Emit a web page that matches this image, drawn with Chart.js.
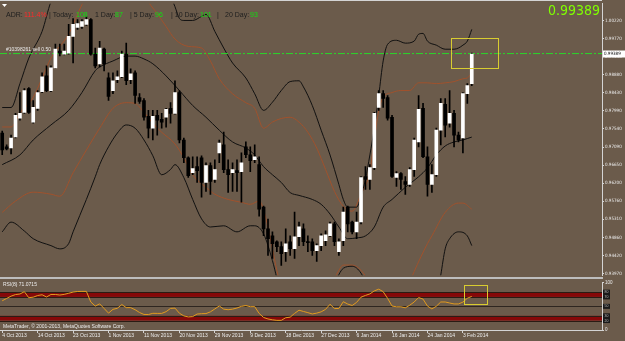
<!DOCTYPE html>
<html>
<head>
<meta charset="utf-8">
<script src="https://cdn.jsdelivr.net/npm/chart.js@4.4.1/dist/chart.umd.min.js"></script>
<style>
html, body { margin: 0; padding: 0; background: #6b5b4b; overflow: hidden; }
#wrap { position: relative; width: 625px; height: 341px; }
canvas { position: absolute; left: 0; }
#main { top: 0; }
#rsi { top: 279px; }
</style>
</head>
<body>
<div id="wrap">
  <canvas id="main" width="625" height="279"></canvas>
  <canvas id="rsi" width="625" height="62"></canvas>
</div>
<script>
// daily bars, 4 Oct 2013 .. 5 Feb 2014 (index = bar number)
const tickIdx = [0, 8, 16, 24, 32, 40, 48, 56, 64, 72, 80, 88, 96, 104];
const tickDates = ['4 Oct 2013', '14 Oct 2013', '23 Oct 2013', '1 Nov 2013', '11 Nov 2013', '20 Nov 2013',
    '29 Nov 2013', '9 Dec 2013', '18 Dec 2013', '27 Dec 2013', '6 Jan 2014', '16 Jan 2014', '24 Jan 2014', '3 Feb 2014'];

const priceTicks = [1.0022, 0.9977, 0.9933, 0.9888, 0.9843, 0.9799, 0.9754, 0.9709,
    0.9665, 0.9620, 0.9576, 0.9531, 0.9486, 0.9442, 0.9397];

const opens = [
    0.97439, 0.97098, 0.97073, 0.97342, 0.97805, 0.97951, 0.98537, 0.97707, 0.98049, 0.98464,
    0.98854, 0.98488, 0.99049, 0.99464, 0.99390, 0.99415, 0.99829, 1.00049, 1.00073, 1.00122,
    1.00244, 0.99390, 0.99146, 0.99512, 0.98805, 0.98488, 0.98756, 0.98829, 0.99390, 0.98756,
    0.98927, 0.98317, 0.98244, 0.97854, 0.97561, 0.97878, 0.97781, 0.97829, 0.98049, 0.97927,
    0.98439, 0.97268, 0.96829, 0.96464, 0.96610, 0.96829, 0.96220, 0.96634, 0.96293, 0.96951,
    0.97146, 0.96537, 0.96464, 0.96512, 0.96488, 0.97098, 0.96903, 0.96781, 0.96659, 0.95610,
    0.95073, 0.94903, 0.94756, 0.94634, 0.94512, 0.94756, 0.94586, 0.94878, 0.95073, 0.94756,
    0.94756, 0.94537, 0.94659, 0.94781, 0.94903, 0.95195, 0.94512, 0.94781, 0.95610, 0.95244,
    0.95000, 0.95244, 0.96366, 0.96293, 0.96586, 0.98073, 0.98415, 0.98317, 0.97829, 0.96342,
    0.96439, 0.96244, 0.96171, 0.96537, 0.97220, 0.98049, 0.96854, 0.96171, 0.96415, 0.97512,
    0.98146, 0.97683, 0.97927, 0.97390, 0.97317, 0.98415, 0.98659
];
const highs = [
    0.97488, 0.97146, 0.97390, 0.97927, 0.98439, 0.98537, 0.98561, 0.98244, 0.98488, 0.98927,
    0.99098, 0.99098, 0.99634, 0.99634, 0.99634, 1.00122, 1.00268, 1.00244, 1.00244, 1.00317,
    1.00268, 0.99537, 0.99707, 0.99537, 0.98927, 0.98927, 0.98976, 0.99464, 0.99659, 0.99025,
    0.98976, 0.98415, 0.98293, 0.98000, 0.98000, 0.98000, 0.97927, 0.98049, 0.98195, 0.98732,
    0.98488, 0.97317, 0.96854, 0.96854, 0.96854, 0.96878, 0.96707, 0.96707, 0.96781, 0.97268,
    0.97464, 0.96781, 0.96707, 0.96781, 0.96951, 0.97220, 0.97098, 0.97146, 0.96854, 0.95634,
    0.95317, 0.95000, 0.94781, 0.94756, 0.95073, 0.94903, 0.95488, 0.95244, 0.95195, 0.94903,
    0.94829, 0.94707, 0.94951, 0.95025, 0.95244, 0.95244, 0.94829, 0.95610, 0.95634, 0.95268,
    0.95488, 0.96366, 0.96610, 0.96659, 0.97951, 0.98488, 0.98488, 0.98366, 0.97878, 0.96488,
    0.96464, 0.96366, 0.96586, 0.97317, 0.98366, 0.98171, 0.97098, 0.96659, 0.97561, 0.98293,
    0.98293, 0.98488, 0.98000, 0.97464, 0.98439, 0.98659, 0.99415
];
const lows = [
    0.96903, 0.97025, 0.96927, 0.97317, 0.97756, 0.97927, 0.97927, 0.97683, 0.98000, 0.98439,
    0.98464, 0.98464, 0.99040, 0.99342, 0.99370, 0.99390, 0.99171, 1.00000, 1.00025, 1.00098,
    0.99366, 0.99049, 0.99073, 0.98976, 0.98244, 0.98415, 0.98683, 0.98805, 0.98634, 0.98659,
    0.98171, 0.98171, 0.97756, 0.97317, 0.97268, 0.97390, 0.97561, 0.97586, 0.97683, 0.97903,
    0.97195, 0.96707, 0.96342, 0.96415, 0.96220, 0.95854, 0.96000, 0.95927, 0.96220, 0.96707,
    0.96464, 0.95976, 0.96000, 0.96000, 0.95732, 0.96829, 0.96488, 0.96707, 0.95390, 0.94903,
    0.94415, 0.94342, 0.94512, 0.94171, 0.94268, 0.94415, 0.94342, 0.94659, 0.94659, 0.94512,
    0.94415, 0.94268, 0.94537, 0.94659, 0.94878, 0.94659, 0.94415, 0.94659, 0.95000, 0.94951,
    0.94829, 0.95195, 0.96049, 0.96049, 0.96537, 0.98000, 0.98073, 0.97756, 0.96342, 0.96122,
    0.96049, 0.95927, 0.96122, 0.96366, 0.97098, 0.96829, 0.95878, 0.95976, 0.96366, 0.97146,
    0.97342, 0.97586, 0.97098, 0.97220, 0.96951, 0.98171, 0.98610
];
const closes = [
    0.97025, 0.97049, 0.97317, 0.97878, 0.97927, 0.98488, 0.97951, 0.98073, 0.98439, 0.98829,
    0.98488, 0.99049, 0.99512, 0.99415, 0.99464, 0.99829, 1.00122, 1.00146, 1.00195, 1.00244,
    0.99390, 0.99098, 0.99537, 0.99146, 0.98342, 0.98732, 0.98829, 0.99390, 0.98732, 0.98903,
    0.98366, 0.98220, 0.97829, 0.97561, 0.97854, 0.97756, 0.97707, 0.98025, 0.97927, 0.98439,
    0.97268, 0.96829, 0.96390, 0.96561, 0.96512, 0.96220, 0.96634, 0.96244, 0.96537, 0.97195,
    0.96537, 0.96415, 0.96537, 0.96464, 0.96707, 0.96903, 0.96756, 0.96854, 0.95561, 0.95073,
    0.94829, 0.94707, 0.94634, 0.94464, 0.94707, 0.94586, 0.94878, 0.95122, 0.94756, 0.94732,
    0.94537, 0.94659, 0.94903, 0.94927, 0.95195, 0.94756, 0.94756, 0.95488, 0.95195, 0.95000,
    0.95244, 0.96342, 0.96293, 0.96586, 0.97927, 0.98415, 0.98293, 0.97805, 0.96366, 0.96439,
    0.96293, 0.96171, 0.96537, 0.97268, 0.98025, 0.96854, 0.96171, 0.96415, 0.97512, 0.98171,
    0.97634, 0.97927, 0.97390, 0.97268, 0.98415, 0.98610, 0.99389
];

// band lines read at [bar, price]; null = line runs outside the window
const bbUpper = [[0, 0.9807], [2, 0.9807], [4, 0.9866], [6, 0.9929], [9, 0.9995], [11, 1.0068], [12, 1.0085], [25, null],
    [38, 1.0083], [39, 1.0056], [40, 1.0027], [41, 1.0022], [43, 1.0022], [45, 1.0032], [46, 1.0037], [48, 0.9995],
    [50, 0.9954], [52, 0.9917], [55, 0.9880], [57, 0.9841], [59, 0.9800], [61, 0.9820], [63, 0.9849], [65, 0.9871],
    [67, 0.9873], [68, 0.9858], [70, 0.9812], [72, 0.9751], [74, 0.9690], [76, 0.9617], [77, 0.9580], [78, 0.9561],
    [80, 0.9561], [81, 0.9588], [82, 0.9630], [83, 0.9690], [84, 0.9756], [85, 0.9837], [86, 0.9922], [87, 0.9963],
    [89, 0.9973], [91, 0.9966], [93, 0.9971], [94, 0.9988], [95, 0.9990], [96, 0.9971], [98, 0.9961], [100, 0.9951],
    [102, 0.9951], [103, 0.9954], [104, 0.9961], [105, 0.9971], [106, 1.0000]];
const bbMid = [[0, 0.9666], [4, 0.9690], [7, 0.9727], [11, 0.9764], [15, 0.9800], [18, 0.9844], [21, 0.9898],
    [22, 0.9907], [25, 0.9922], [28, 0.9934], [30, 0.9934], [32, 0.9927], [34, 0.9915], [37, 0.9885], [40, 0.9849],
    [43, 0.9812], [46, 0.9783], [49, 0.9751], [52, 0.9722], [55, 0.9707], [57, 0.9690], [59, 0.9661], [61, 0.9641],
    [63, 0.9622], [65, 0.9597], [67, 0.9590], [70, 0.9580], [72, 0.9568], [74, 0.9544], [76, 0.9512], [78, 0.9483],
    [80, 0.9485], [82, 0.9490], [84, 0.9512], [86, 0.9561], [88, 0.9580], [91, 0.9610], [94, 0.9636], [96, 0.9658],
    [98, 0.9690], [100, 0.9712], [102, 0.9722], [104, 0.9727], [106, 0.9734]];
const bbLower = [[0, 0.9500], [2, 0.9524], [5, 0.9502], [7, 0.9483], [11, 0.9466], [13, 0.9458], [15, 0.9471],
    [16, 0.9500], [19, 0.9580], [21, 0.9636], [22, 0.9666], [24, 0.9710], [26, 0.9744], [28, 0.9764], [30, 0.9756],
    [32, 0.9727], [34, 0.9688], [36, 0.9641], [38, 0.9654], [39, 0.9666], [41, 0.9634], [43, 0.9580], [45, 0.9532],
    [47, 0.9512], [50, 0.9515], [53, 0.9500], [56, 0.9515], [57, 0.9515], [59, 0.9495], [61, 0.9429], [62, 0.9385],
    [63, 0.9337], [70, null], [75, 0.9373], [77, 0.9410], [79, 0.9415], [81, 0.9398], [83, 0.9349], [90, null],
    [98, 0.9330], [99, 0.9393], [100, 0.9458], [101, 0.9483], [103, 0.9500], [105, 0.9490], [106, 0.9466]];
const envUpper = [[0, 0.9759], [2, 0.9759], [4, 0.9793], [7, 0.9832], [9, 0.9880], [11, 0.9929], [15, 0.9988],
    [18, 1.0061], [19, 1.0076], [26, null], [32, 1.0090], [33, 1.0068], [35, 1.0039], [37, 1.0007], [39, 0.9976],
    [42, 0.9958], [45, 0.9954], [47, 0.9922], [49, 0.9878], [52, 0.9841], [55, 0.9819], [57, 0.9805], [59, 0.9756],
    [61, 0.9771], [63, 0.9780], [65, 0.9783], [67, 0.9771], [69, 0.9746], [71, 0.9707], [73, 0.9654], [75, 0.9600],
    [77, 0.9563], [79, 0.9551], [81, 0.9593], [83, 0.9649], [84, 0.9727], [85, 0.9800], [86, 0.9832], [88, 0.9844],
    [90, 0.9849], [92, 0.9849], [94, 0.9868], [96, 0.9868], [98, 0.9866], [100, 0.9868], [102, 0.9871], [104, 0.9878],
    [105, 0.9880], [106, 0.9893]];
const envLower = [[0, 0.9548], [3, 0.9576], [7, 0.9598], [11, 0.9593], [13, 0.9588], [16, 0.9646], [19, 0.9702],
    [22, 0.9756], [25, 0.9805], [28, 0.9819], [30, 0.9817], [32, 0.9795], [34, 0.9768], [36, 0.9746], [39, 0.9717],
    [41, 0.9683], [43, 0.9641], [46, 0.9610], [48, 0.9593], [51, 0.9580], [54, 0.9573], [56, 0.9568], [58, 0.9576],
    [60, 0.9512], [61, 0.9458], [62, 0.9405], [63, 0.9361], [70, null], [74, 0.9360], [76, 0.9405], [77, 0.9418],
    [79, 0.9418], [81, 0.9405], [83, 0.9375], [84, 0.9360], [88, null], [92, 0.9375], [93, 0.9402], [96, 0.9471],
    [97, 0.9490], [100, 0.9548], [103, 0.9571], [104, 0.9571], [106, 0.9556]];

const rsi = [
    61.8, 66.7, 71.6, 74.9, 76.1, 81.0, 68.2, 69.4, 72.9, 74.5,
    69.8, 75.1, 75.1, 73.9, 75.3, 77.6, 80.2, 81.4, 81.6, 81.6,
    59.2, 50.6, 55.3, 45.5, 35.7, 43.7, 45.9, 53.9, 47.3, 47.3,
    42.9, 36.9, 32.9, 32.7, 35.3, 35.1, 35.1, 38.8, 45.7, 46.3,
    35.5, 29.8, 27.6, 28.4, 33.7, 34.5, 34.7, 38.4, 44.5, 50.8,
    44.1, 42.9, 44.1, 46.5, 50.0, 51.8, 49.2, 49.4, 35.1, 26.5,
    23.3, 21.6, 20.4, 20.4, 25.9, 27.1, 35.1, 41.8, 39.2, 36.7,
    33.9, 35.7, 38.4, 43.7, 54.5, 45.3, 45.5, 59.8, 54.9, 51.8,
    58.4, 69.4, 73.1, 76.3, 82.7, 86.3, 81.0, 66.9, 50.8, 49.0,
    49.0, 46.9, 52.4, 59.2, 68.6, 65.3, 50.6, 44.5, 50.2, 59.2,
    59.2, 57.1, 55.1, 55.1, 59.0, 67.1, 71.1
];
const rsiBands = [[70, 80], [20, 30]];
const rsiMidLevel = 50;

const orderPrice = 0.99402;
const boxMain = { x0: 101.3, x1: 111.9, y0: 0.9903, y1: 0.9978 };
const boxRsi = { x0: 104.2, x1: 109.4, y0: 55.1, y1: 95.9 };

const xMin = -0.5, xMax = 135.4;
const priceMin = 0.93927, priceMax = 1.00634;

const sans = '"Liberation Sans", Arial, sans-serif';
const narrow = '"Liberation Sans Narrow", "DejaVu Sans Condensed", "Liberation Sans", sans-serif';
const axisColor = '#d4d4d4';
const textColor = '#ececec';

const idx = closes.map((_, i) => i);
const toXY = pairs => pairs.map(([x, y]) => ({ x: x, y: y }));

function bandLine(pairs, color) {
    return {
        type: 'line', data: toXY(pairs), borderColor: color, borderWidth: 1,
        pointRadius: 0, cubicInterpolationMode: 'monotone', spanGaps: false, order: 5
    };
}

function rectOn(ctx, xs, ys, b, color) {
    const x0 = xs.getPixelForValue(b.x0), x1 = xs.getPixelForValue(b.x1);
    const y0 = ys.getPixelForValue(b.y0), y1 = ys.getPixelForValue(b.y1);
    ctx.save();
    ctx.strokeStyle = color;
    ctx.lineWidth = 1;
    ctx.strokeRect(Math.round(x0) + 0.5, Math.round(y1) + 0.5, Math.round(x1 - x0), Math.round(y0 - y1));
    ctx.restore();
}

const mainDecor = {
    id: 'mainDecor',
    afterDatasetsDraw(chart) {
        const { ctx, scales: { x, y } } = chart;
        rectOn(ctx, x, y, boxMain, '#d8cc30');
        ctx.save();
        ctx.font = '5px ' + sans;
        ctx.fillStyle = textColor;
        ctx.textBaseline = 'alphabetic';
        ctx.fillText('#10398261 sell 0.50', 6, y.getPixelForValue(orderPrice) - 2.5);
        ctx.restore();
    },
    afterDraw(chart) {
        const { ctx, chartArea: a, scales: { y } } = chart;
        ctx.save();
        // frame top + panel separator
        ctx.fillStyle = axisColor;
        ctx.fillRect(0, 0, a.right, 1);
        ctx.fillStyle = '#bdbdbd';
        ctx.fillRect(0, 277, a.right + 1, 2);
        // one-click triangle
        ctx.fillStyle = '#ffffff';
        ctx.beginPath();
        ctx.moveTo(2, 4); ctx.lineTo(7, 4); ctx.lineTo(4.5, 7); ctx.closePath();
        ctx.fill();
        // ADR line
        const dark = '#1e1e1e', green = '#10e010', red = '#ff2a2a';
        const parts = [['ADR:', 6, dark], ['111.4%', 24, red], ['| Today:', 49, dark], ['108', 76, green],
            ['1 Day:', 95, dark], ['87', 115, green], ['| 5 Day:', 130, dark], ['96', 155, green],
            ['| 10 Day:', 171, dark], ['101', 200, green], ['|', 217, dark], ['20 Day:', 225, dark], ['93', 250, green]];
        ctx.font = '7px ' + sans;
        ctx.textBaseline = 'alphabetic';
        parts.forEach(([t, px, c]) => { ctx.fillStyle = c; ctx.fillText(t, px, 17); });
        // big bid
        const last = closes[closes.length - 1].toFixed(5);
        ctx.font = '14px ' + narrow;
        ctx.fillStyle = '#80ff00';
        ctx.textAlign = 'right';
        ctx.fillText(last, 600, 15);
        // price marker on axis
        const py = y.getPixelForValue(closes[closes.length - 1]);
        ctx.fillStyle = '#ffffff';
        ctx.fillRect(a.right + 1, Math.round(py) - 3.5, 22, 7);
        ctx.fillStyle = '#000000';
        ctx.textAlign = 'left';
        ctx.textBaseline = 'middle';
        ctx.font = '4.5px ' + narrow;
        ctx.fillText(last, a.right + 2, Math.round(py));
        ctx.restore();
    }
};

new Chart(document.getElementById('main'), {
    type: 'bar',
    data: {
        datasets: [
            {
                type: 'bar', data: idx.map(i => ({ x: i, y: [opens[i], closes[i]] })),
                backgroundColor: idx.map(i => closes[i] >= opens[i] ? '#ffffff' : '#000000'),
                barThickness: 3, minBarLength: 1, grouped: false, order: 0
            },
            {
                type: 'bar', data: idx.map(i => ({ x: i, y: [lows[i], highs[i]] })),
                backgroundColor: '#000000', barThickness: 1, grouped: false, order: 1
            },
            {
                type: 'line', data: [{ x: xMin, y: orderPrice }, { x: xMax, y: orderPrice }],
                borderColor: '#2ad82a', borderWidth: 1, borderDash: [7, 2, 2, 2], pointRadius: 0, order: 2
            },
            bandLine(bbUpper, '#111111'),
            bandLine(bbMid, '#111111'),
            bandLine(bbLower, '#111111'),
            bandLine(envUpper, '#a0522d'),
            bandLine(envLower, '#a0522d')
        ]
    },
    options: {
        responsive: false,
        animation: false,
        layout: { padding: { top: 2, bottom: 2, left: 0, right: 0 } },
        plugins: { legend: { display: false }, tooltip: { enabled: false } },
        scales: {
            x: { type: 'linear', min: xMin, max: xMax, offset: false, display: false },
            y: {
                position: 'right', min: priceMin, max: priceMax,
                afterFit: s => { s.width = 23; },
                afterBuildTicks: s => { s.ticks = priceTicks.map(v => ({ value: v })); },
                ticks: {
                    autoSkip: false, color: textColor, padding: 1,
                    font: { family: narrow, size: 4.5 },
                    callback: v => v.toFixed(5)
                },
                grid: { drawOnChartArea: false, tickLength: 2, color: axisColor },
                border: { display: true, color: axisColor }
            }
        }
    },
    plugins: [mainDecor]
});

const rsiDecor = {
    id: 'rsiDecor',
    beforeDatasetsDraw(chart) {
        const { ctx, chartArea: a, scales: { y } } = chart;
        ctx.save();
        rsiBands.forEach(([lo, hi]) => {
            const yt = y.getPixelForValue(hi), yb = y.getPixelForValue(lo);
            ctx.fillStyle = '#860808';
            ctx.fillRect(a.left, yt, a.right - a.left, yb - yt);
            ctx.fillStyle = '#2a1c14';
            ctx.fillRect(a.left, Math.round(yt), a.right - a.left, 1);
            ctx.fillRect(a.left, Math.round(yb), a.right - a.left, 1);
        });
        ctx.fillStyle = '#2e2620';
        ctx.fillRect(a.left, Math.round(y.getPixelForValue(rsiMidLevel)), a.right - a.left, 1);
        ctx.restore();
    },
    afterDraw(chart) {
        const { ctx, chartArea: a, scales: { x, y } } = chart;
        rectOn(ctx, x, y, boxRsi, '#d8cc30');
        ctx.save();
        ctx.font = '5px ' + sans;
        ctx.fillStyle = textColor;
        ctx.textBaseline = 'alphabetic';
        ctx.fillText('RSI(8) 71.0715', 3, 7);
        ctx.fillText('MetaTrader, \u00a9 2001-2013, MetaQuotes Software Corp.', 3, 48.5);
        // level tags on the axis
        const groups = [[80, 70], [50], [30, 20]];
        ctx.font = '3.5px ' + sans;
        groups.forEach(g => {
            const t = y.getPixelForValue(g[0]) - 2.5, b = y.getPixelForValue(g[g.length - 1]) + 2.5;
            ctx.fillStyle = '#1a1a1a';
            ctx.fillRect(a.right + 1, t, 7, b - t);
            ctx.fillStyle = '#bbbbbb';
            ctx.textBaseline = 'middle';
            g.forEach(v => ctx.fillText(String(v), a.right + 2.5, y.getPixelForValue(v)));
        });
        ctx.restore();
    }
};

new Chart(document.getElementById('rsi'), {
    type: 'line',
    data: {
        datasets: [{
            data: idx.map(i => ({ x: i, y: rsi[i] })),
            borderColor: '#e39b1e', borderWidth: 1, pointRadius: 0, tension: 0
        }]
    },
    options: {
        responsive: false,
        animation: false,
        layout: { padding: { top: 2, bottom: 0, left: 0, right: 0 } },
        plugins: { legend: { display: false }, tooltip: { enabled: false } },
        scales: {
            x: {
                type: 'linear', min: xMin, max: xMax, offset: false,
                afterFit: s => { s.height = 11; },
                afterBuildTicks: s => { s.ticks = tickIdx.map(v => ({ value: v })); },
                ticks: {
                    autoSkip: false, maxRotation: 0, align: 'start', padding: 0,
                    color: textColor, font: { family: sans, size: 5 },
                    callback: v => tickDates[tickIdx.indexOf(v)]
                },
                grid: { drawOnChartArea: false, tickLength: 3, color: axisColor },
                border: { display: true, color: axisColor }
            },
            y: {
                position: 'right', min: 0, max: 100,
                afterFit: s => { s.width = 23; },
                afterBuildTicks: s => { s.ticks = [{ value: 0 }, { value: 100 }]; },
                ticks: { color: textColor, padding: 1, font: { family: sans, size: 4.5 } },
                grid: { drawOnChartArea: false, tickLength: 2, color: axisColor },
                border: { display: true, color: axisColor }
            }
        }
    },
    plugins: [rsiDecor]
});
</script>
</body>
</html>
